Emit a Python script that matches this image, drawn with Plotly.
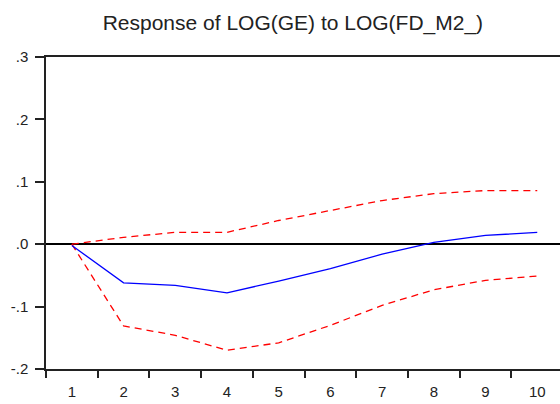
import plotly.graph_objects as go

periods = ["1", "2", "3", "4", "5", "6", "7", "8", "9", "10"]
response = [-0.002, -0.062, -0.066, -0.078, -0.059, -0.039, -0.016, 0.003, 0.014, 0.019]
upper = [0.0, 0.011, 0.019, 0.019, 0.038, 0.054, 0.070, 0.081, 0.086, 0.086]
lower = [0.0, -0.131, -0.146, -0.170, -0.158, -0.130, -0.098, -0.073, -0.058, -0.051]
ytick_vals = [-0.2, -0.1, 0.0, 0.1, 0.2, 0.3]
ytick_text = ["-.2", "-.1", ".0", ".1", ".2", ".3"]

fig = go.Figure()
fig.add_trace(go.Scatter(x=periods, y=upper, mode="lines",
                         line=dict(color="#ff0000", width=1.3, dash="7px,5px")))
fig.add_trace(go.Scatter(x=periods, y=lower, mode="lines",
                         line=dict(color="#ff0000", width=1.3, dash="7px,5px")))
fig.add_trace(go.Scatter(x=periods, y=response, mode="lines",
                         line=dict(color="#0000ff", width=1.3)))

fig.update_layout(
    width=560, height=404,
    margin=dict(l=46, r=0, t=57, b=35),
    paper_bgcolor="white", plot_bgcolor="white",
    showlegend=False,
    font=dict(family="Liberation Sans, Arial, sans-serif", color="#222"),
    title=dict(text="Response of LOG(GE) to LOG(FD_M2_)",
               x=0.523, xanchor="center", y=0.945, yanchor="middle",
               font=dict(size=21, color="#222")),
)
fig.update_xaxes(
    type="category", range=[-0.5, 9.44],
    tickson="boundaries", ticks="outside", ticklen=7, tickwidth=1.5, tickcolor="#222",
    showline=True, linecolor="#222", linewidth=1.5, mirror=True,
    showgrid=False, zeroline=False,
    tickfont=dict(size=15, color="#222"), ticklabelstandoff=8,
)
fig.update_yaxes(
    range=[-0.2, 0.3], tickvals=ytick_vals, ticktext=ytick_text,
    ticks="outside", ticklen=9, tickwidth=1.5, tickcolor="#222",
    showline=True, linecolor="#222", linewidth=1.5, mirror=False,
    showgrid=False, zeroline=True, zerolinecolor="#000", zerolinewidth=1.5,
    tickfont=dict(size=15, color="#222"), ticklabelstandoff=4,
)

fig.write_html("out.html")
